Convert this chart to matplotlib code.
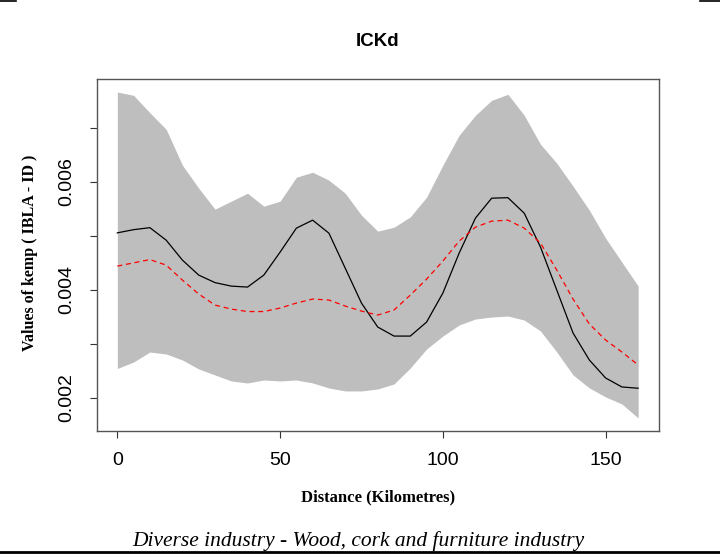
import numpy as np
import matplotlib
matplotlib.use("Agg")
import matplotlib.pyplot as plt
from matplotlib.lines import Line2D

# distance grid (km)
distance = np.arange(0, 165, 5)

# upper / lower envelope of the band
band_upper = [0.007658, 0.007597, 0.007274, 0.006969, 0.006303, 0.005878, 0.005490,
              0.005637, 0.005785, 0.005545, 0.005637, 0.006081, 0.006173, 0.006026,
              0.005785, 0.005378, 0.005082, 0.005156, 0.005347, 0.005711, 0.006303,
              0.006858, 0.007227, 0.007505, 0.007616, 0.007227, 0.006691, 0.006340,
              0.005915, 0.005471, 0.004953, 0.004509, 0.004065]
band_lower = [0.002540, 0.002660, 0.002845, 0.002808, 0.002697, 0.002531, 0.002420,
              0.002309, 0.002272, 0.002327, 0.002309, 0.002327, 0.002272, 0.002179,
              0.002124, 0.002124, 0.002161, 0.002253, 0.002549, 0.002901, 0.003141,
              0.003345, 0.003456, 0.003493, 0.003511, 0.003437, 0.003234, 0.002845,
              0.002420, 0.002179, 0.002013, 0.001883, 0.001624]

# observed kemp
kemp_obs = [0.005051, 0.005110, 0.005147, 0.004916, 0.004546, 0.004269, 0.004130,
            0.004065, 0.004047, 0.004269, 0.004694, 0.005138, 0.005286, 0.005045,
            0.004398, 0.003751, 0.003307, 0.003140, 0.003140, 0.003399, 0.003936,
            0.004675, 0.005323, 0.005693, 0.005702, 0.005415, 0.004787, 0.003991,
            0.003196, 0.002697, 0.002364, 0.002198, 0.002174]

# mean of simulations
kemp_mean = [0.004435, 0.004496, 0.004556, 0.004454, 0.004176, 0.003918, 0.003714,
             0.003640, 0.003594, 0.003594, 0.003659, 0.003751, 0.003825, 0.003807,
             0.003696, 0.003603, 0.003529, 0.003622, 0.003899, 0.004195, 0.004528,
             0.004898, 0.005156, 0.005268, 0.005286, 0.005138, 0.004861, 0.004361,
             0.003825, 0.003363, 0.003067, 0.002845, 0.002605]

x_ticks = [0, 50, 100, 150]
y_ticks = [0.002, 0.003, 0.004, 0.005, 0.006, 0.007]
y_ticklabels = ["0.002", "", "0.004", "", "0.006", ""]

title = "ICKd"
x_label = "Distance (Kilometres)"
y_label = "Values of kemp ( IBLA - ID )"
caption = "Diverse industry - Wood, cork and furniture industry"

W, H = 720, 555
fig = plt.figure(figsize=(W / 100, H / 100), dpi=100)
ax = fig.add_axes([96.5 / W, 1 - 431 / H, (659 - 96.5) / W, (431 - 79) / H])

ax.fill_between(distance, band_lower, band_upper, color="#bebebe", linewidth=0)
ax.plot(distance, kemp_obs, color="black", linewidth=0.9)
ax.plot(distance, kemp_mean, color="red", linewidth=0.9, linestyle=(0, (4, 3)))

# R-style 4% axis padding
xr = distance.max() - distance.min()
ax.set_xlim(distance.min() - 0.04 * xr, distance.max() + 0.04 * xr)
ymin, ymax = min(band_lower), max(band_upper)
yr = ymax - ymin
ax.set_ylim(ymin - 0.04 * yr, ymax + 0.04 * yr)

sans = "Liberation Sans"
serif = "Liberation Serif"

ax.set_xticks(x_ticks)
ax.set_xticklabels([str(t) for t in x_ticks], fontfamily=sans, fontsize=14)
ax.set_yticks(y_ticks)
ax.set_yticklabels(y_ticklabels, fontfamily=sans, fontsize=14, rotation=90, va="center")
ax.tick_params(axis="x", length=5, width=0.8, pad=10, color="#333333")
ax.tick_params(axis="y", length=5, width=0.8, pad=10, color="#333333")

for s in ax.spines.values():
    s.set_color("#555555")
    s.set_linewidth(1.0)

fig.text(377.7 / W, 1 - 41 / H, title, ha="center", va="center",
         fontfamily=sans, fontweight="bold", fontsize=13.5)
fig.text(378 / W, 1 - 497 / H, x_label, ha="center", va="center",
         fontfamily=serif, fontweight="bold", fontsize=12)
fig.text(30 / W, 1 - 253 / H, y_label, ha="center", va="center", rotation=90,
         fontfamily=serif, fontweight="bold", fontsize=11.5)
fig.text(358 / W, 1 - 541 / H, caption, ha="center", va="center",
         fontfamily=serif, style="italic", fontsize=15.5)

# page rules
fig.add_artist(Line2D([0, 16 / W], [1 - 0.8 / H] * 2, color="black", linewidth=1.2))
fig.add_artist(Line2D([700 / W, 1], [1 - 0.8 / H] * 2, color="black", linewidth=1.2))
fig.add_artist(Line2D([0, 1], [1 - 551.5 / H] * 2, color="black", linewidth=2.0))

fig.savefig("out.png", dpi=100)
